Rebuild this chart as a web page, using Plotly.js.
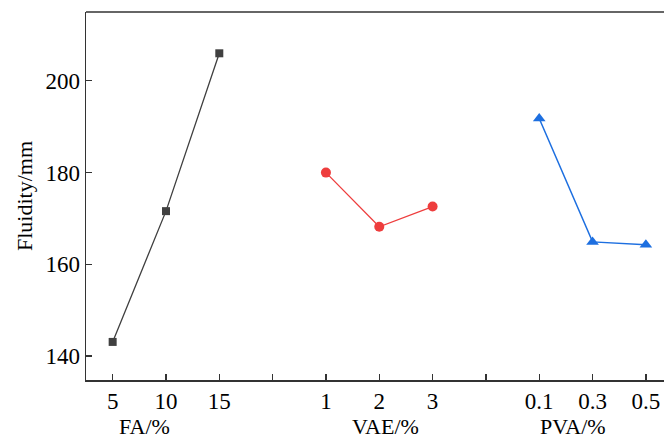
<!DOCTYPE html>
<html>
<head>
<meta charset="utf-8">
<script src="https://cdn.plot.ly/plotly-3.0.1.min.js"></script>
<style>html,body{margin:0;padding:0;background:#fff;overflow:hidden;}</style>
</head>
<body>
<div id="chart" style="width:664px;height:438px;"></div>
<script>
var faLevels = ['5', '10', '15'];
var faValues = [143.1, 171.6, 206.0];
var vaeLevels = ['1', '2', '3'];
var vaeValues = [180.0, 168.2, 172.6];
var pvaLevels = ['0.1', '0.3', '0.5'];
var pvaValues = [191.8, 164.9, 164.3];
var groupTitles = ['FA/%', 'VAE/%', 'PVA/%'];

var groups = [faLevels, vaeLevels, pvaLevels];
var tickvals = [], ticktext = [], starts = [];
var pos = 0;
groups.forEach(function (g, gi) {
  starts.push(pos);
  g.forEach(function (lab) { tickvals.push(pos); ticktext.push(lab); pos++; });
  if (gi < groups.length - 1) { tickvals.push(pos); ticktext.push(''); pos++; }
});
function xs(gi) { return groups[gi].map(function (_, i) { return starts[gi] + i; }); }

var fam = '"Liberation Serif", "Times New Roman", serif';
var tickFont = {family: fam, size: 23, color: '#000'};
var titleFont = {family: fam, size: 22, color: '#000'};
var groupShift = [-21, 6, -20];

var traces = [
  {x: xs(0), y: faValues, mode: 'lines+markers', line: {color: '#3f3f3f', width: 1.3},
   marker: {symbol: 'square', size: 8, color: '#404040'}},
  {x: xs(1), y: vaeValues, mode: 'lines+markers', line: {color: '#ee3d3d', width: 1.3},
   marker: {symbol: 'circle', size: 10, color: '#ee3d3d'}},
  {x: xs(2), y: pvaValues, mode: 'lines+markers', line: {color: '#1d6fe0', width: 1.5},
   marker: {symbol: 'triangle-up', size: 11, color: '#1d6fe0'}}
];

var annotations = groupTitles.map(function (t, gi) {
  return {x: starts[gi] + (groups[gi].length - 1) / 2, y: 0, xref: 'x', yref: 'paper',
    xshift: groupShift[gi], yshift: -46, yanchor: 'middle', text: t, showarrow: false,
    font: titleFont};
});

var layout = {
  width: 664, height: 438,
  margin: {l: 86, r: 0, t: 12, b: 58},
  paper_bgcolor: '#fff', plot_bgcolor: '#fff',
  showlegend: false,
  font: tickFont,
  xaxis: {range: [-0.5, 10.34], tickvals: tickvals, ticktext: ticktext,
    showgrid: false, zeroline: false, showline: true, linecolor: '#333', linewidth: 1.5,
    ticks: 'inside', ticklen: 6, tickwidth: 1.3, tickcolor: '#333', tickfont: tickFont},
  yaxis: {range: [134.8, 215], tickvals: [140, 160, 180, 200],
    showgrid: false, zeroline: false, showline: true, linecolor: '#333', linewidth: 1.5,
    ticks: 'inside', ticklen: 6, tickwidth: 1.3, tickcolor: '#333', tickfont: tickFont,
    title: {text: 'Fluidity/mm', font: titleFont, standoff: 6}},
  shapes: [{type: 'line', xref: 'paper', yref: 'paper', x0: 0, x1: 1, y0: 1, y1: 1,
    line: {color: '#333', width: 1.5}}],
  annotations: annotations
};

Plotly.newPlot('chart', traces, layout, {displayModeBar: false, staticPlot: true});
</script>
</body>
</html>
